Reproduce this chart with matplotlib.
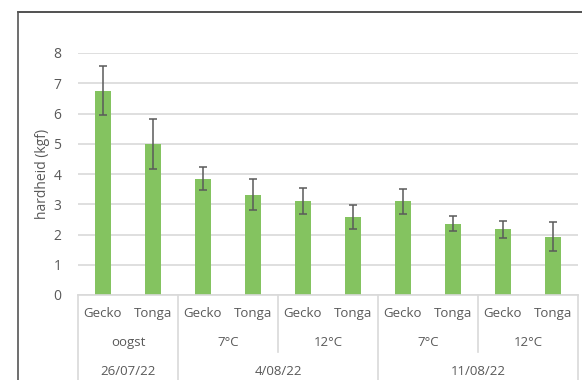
import matplotlib.pyplot as plt
import matplotlib.transforms as mtransforms
from matplotlib.lines import Line2D

plt.rcParams['font.family'] = ['Open Sans', 'DejaVu Sans']

# hardheid per ras, bewaring en datum
rassen = ['Gecko', 'Tonga'] * 5
bewaring = ['oogst', '7°C', '12°C', '7°C', '12°C']
datums = ['26/07/22', '4/08/22', '11/08/22']
hardheid = [6.76, 4.98, 3.85, 3.31, 3.11, 2.57, 3.10, 2.36, 2.17, 1.93]
fout = [0.82, 0.83, 0.38, 0.51, 0.42, 0.39, 0.41, 0.26, 0.29, 0.47]

# groepsgrenzen (index van de eerste staaf na de grens)
grens_bewaring = [2, 4, 6, 8]
grens_datum = [2, 6]

W, H = 582, 380
fig = plt.figure(figsize=(W / 100, H / 100), dpi=100)
ax = fig.add_axes([78 / W, (H - 295) / H, 500 / W, 242 / H])

grijs = '#595959'
lijn = '#d9d9d9'

x = list(range(len(hardheid)))
ax.bar(x, hardheid, width=0.32, color='#84c360', zorder=2)
ax.errorbar(x, hardheid, yerr=fout, fmt='none', ecolor='#5a5a5a',
            elinewidth=1.1, capsize=3.2, capthick=1.1, zorder=3)

ax.set_xlim(-0.5, len(hardheid) - 0.5)
ax.set_ylim(0, 8)
ax.set_yticks(range(0, 9))
ax.yaxis.grid(True, color=lijn, linewidth=1.2, zorder=0)
ax.tick_params(axis='y', length=0, pad=12, labelsize=10, labelcolor=grijs)
ax.set_xticks([])
for s in ['top', 'right', 'left']:
    ax.spines[s].set_visible(False)
ax.spines['bottom'].set_color(lijn)
ax.spines['bottom'].set_linewidth(1.2)

# categorie-as met drie niveaus
trans = mtransforms.blended_transform_factory(ax.transData, ax.transAxes)
y1, y2, y3 = -0.075, -0.195, -0.315
onder2, onder = -0.235, -0.36
tekst = dict(transform=trans, ha='center', va='center', fontsize=9.5,
             color=grijs, clip_on=False)

for i, r in enumerate(rassen):
    ax.text(i, y1, r, **tekst)

starts2 = [0] + grens_bewaring
ends2 = grens_bewaring + [len(hardheid)]
for b, s, e in zip(bewaring, starts2, ends2):
    ax.text((s + e - 1) / 2, y2, b, **tekst)

starts3 = [0] + grens_datum
ends3 = grens_datum + [len(hardheid)]
for d, s, e in zip(datums, starts3, ends3):
    ax.text((s + e - 1) / 2, y3, d, **tekst)

for g in [0] + grens_bewaring + [len(hardheid)]:
    diep = onder if g in [0, len(hardheid)] + grens_datum else onder2
    ax.plot([g - 0.5, g - 0.5], [0, diep], transform=trans, color=lijn,
            linewidth=1.2, clip_on=False)

fig.text(43 / W, (H - 174) / H, 'hardheid (kgf)', rotation=90,
         ha='center', va='center', fontsize=10, color=grijs)

# kader
fig.add_artist(Line2D([18 / W, 1], [(H - 11.5) / H] * 2, color='#333333', linewidth=1.2))
fig.add_artist(Line2D([18 / W] * 2, [0, (H - 11.5) / H], color='#555555', linewidth=1.2))

fig.savefig('out.png', dpi=100)
